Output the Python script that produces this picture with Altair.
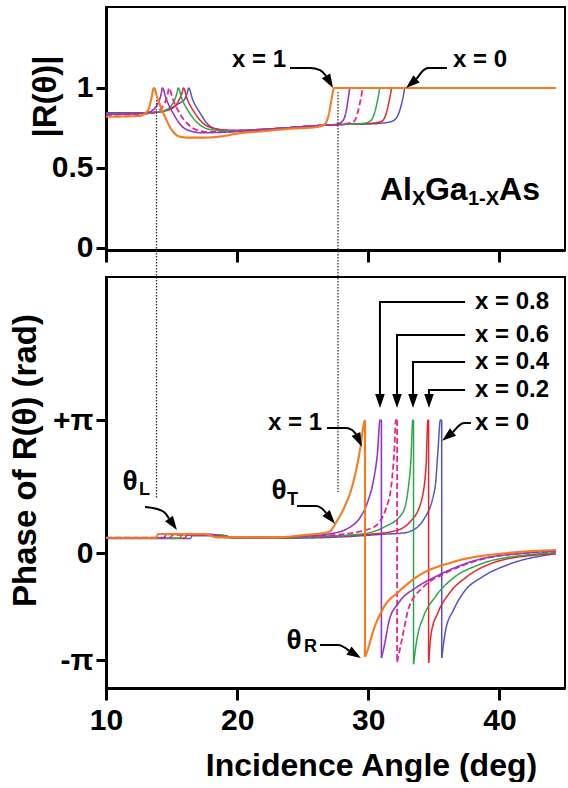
import math
import altair as alt
import pandas as pd

PI = math.pi
FONT = "Liberation Sans"

# ---------------- series styling ----------------
names = ["x = 0", "x = 0.2", "x = 0.4", "x = 0.6", "x = 0.8", "x = 1"]
colors = ["#5353C4", "#E3262B", "#2EA64B", "#E8268C", "#9535C3", "#F67A1E"]
dashes = [[1, 0], [1, 0], [1, 0], [6, 3], [1, 0], [1, 0]]
widths = [1.5, 1.5, 1.5, 1.8, 1.6, 2.1]

# ---------------- |R(theta)| (top panel) ----------------
mag_ang_x0 = [10, 13.5, 14.5, 15.5, 16.0, 16.2, 16.3, 16.6, 17.2, 17.8, 18.4, 19.2, 20.0, 22.0, 24.0, 26.0, 28.0, 30.0, 31.5, 32.0, 32.4, 32.65, 32.8, 44.3]
mag_val_x0 = [0.845, 0.845, 0.86, 0.90, 0.93, 0.97, 1.0, 0.93, 0.84, 0.77, 0.745, 0.735, 0.735, 0.742, 0.752, 0.764, 0.772, 0.775, 0.785, 0.80, 0.86, 0.94, 1.0, 1.0]
mag_ang_x02 = [10, 13.5, 15.0, 15.6, 15.8, 15.9, 16.2, 16.8, 17.4, 18.1, 19.0, 20.0, 22.0, 24.0, 26.0, 28.0, 30.0, 31.0, 31.4, 31.65, 31.8, 44.3]
mag_val_x02 = [0.84, 0.845, 0.87, 0.93, 0.97, 1.0, 0.93, 0.84, 0.78, 0.75, 0.738, 0.735, 0.742, 0.752, 0.764, 0.772, 0.778, 0.79, 0.85, 0.94, 1.0, 1.0]
mag_ang_x04 = [10, 13.0, 14.5, 15.2, 15.4, 15.5, 15.8, 16.4, 17.0, 17.7, 18.5, 19.5, 22.0, 24.0, 26.0, 28.0, 29.5, 30.1, 30.5, 30.75, 30.9, 44.3]
mag_val_x04 = [0.838, 0.842, 0.86, 0.92, 0.965, 1.0, 0.93, 0.84, 0.78, 0.745, 0.735, 0.732, 0.74, 0.752, 0.764, 0.772, 0.778, 0.79, 0.85, 0.94, 1.0, 1.0]
mag_ang_x06 = [10, 12.5, 13.8, 14.5, 14.7, 14.8, 15.1, 15.7, 16.3, 17.0, 17.8, 19.0, 20.0, 22.0, 24.0, 26.0, 28.0, 28.9, 29.2, 29.45, 29.6, 44.3]
mag_val_x06 = [0.832, 0.836, 0.85, 0.91, 0.96, 1.0, 0.93, 0.83, 0.77, 0.735, 0.725, 0.725, 0.73, 0.74, 0.752, 0.764, 0.774, 0.79, 0.85, 0.94, 1.0, 1.0]
mag_ang_x08 = [10, 12.0, 13.3, 14.0, 14.2, 14.3, 14.6, 15.2, 15.8, 16.5, 17.3, 18.5, 20.0, 22.0, 24.0, 26.0, 27.5, 28.0, 28.3, 28.5, 28.6, 44.3]
mag_val_x08 = [0.835, 0.838, 0.85, 0.91, 0.96, 1.0, 0.93, 0.83, 0.76, 0.73, 0.72, 0.722, 0.728, 0.74, 0.752, 0.764, 0.772, 0.79, 0.85, 0.95, 1.0, 1.0]
mag_ang_x1 = [10, 12.5, 13.2, 13.45, 13.65, 13.95, 14.5, 15.0, 15.5, 16.2, 17.5, 19.0, 20.0, 22.0, 24.0, 26.0, 26.7, 27.0, 27.2, 27.4, 44.3]
mag_val_x1 = [0.82, 0.825, 0.86, 0.93, 1.0, 0.93, 0.82, 0.74, 0.70, 0.69, 0.69, 0.70, 0.715, 0.73, 0.745, 0.755, 0.775, 0.84, 0.93, 1.0, 1.0]

# ---------------- phase of R(theta) (bottom panel, rad) ----------------
ph_ang_x0 = [10, 16.4, 16.6, 19.0, 19.8, 24, 28, 31.5, 32.6, 33.1, 34.2, 35.1, 35.3, 35.5, 35.6, 35.6, 35.9, 36.5, 37.3, 38.7, 40.6, 44.3]
ph_val_x0 = [0.34, 0.34, 0.41, 0.41, 0.35, 0.35, 0.38, 0.45, 0.47, 0.50, 0.78, 1.56, 2.36, 3.14, 3.14, -3.08, -2.26, -1.67, -1.14, -0.70, -0.35, -0.02]
ph_ang_x02 = [10, 16.0, 16.2, 18.9, 19.7, 24, 27, 30, 32.0, 33.1, 34.0, 34.4, 34.55, 34.6, 34.6, 34.8, 35.3, 36.2, 37.5, 39.5, 42.8, 44.3]
ph_val_x02 = [0.35, 0.35, 0.42, 0.42, 0.36, 0.36, 0.39, 0.44, 0.52, 0.71, 1.18, 2.03, 3.14, 3.14, -3.22, -2.35, -1.76, -1.17, -0.70, -0.29, -0.06, -0.02]
ph_ang_x04 = [10, 15.6, 15.8, 18.7, 19.5, 24, 27, 29.5, 31.2, 32.6, 33.0, 33.25, 33.4, 33.45, 33.45, 33.7, 34.2, 35.1, 36.5, 38.4, 42.0, 44.3]
ph_val_x04 = [0.35, 0.35, 0.43, 0.43, 0.36, 0.36, 0.40, 0.45, 0.61, 0.94, 1.42, 2.2, 3.14, 3.14, -3.26, -2.55, -1.88, -1.29, -0.73, -0.35, -0.06, 0.0]
ph_ang_x06 = [10, 14.9, 15.1, 18.3, 19.2, 23, 26, 28.5, 30.4, 31.4, 31.8, 32.0, 32.1, 32.2, 32.2, 32.6, 33.1, 34.2, 35.9, 38.4, 42.0, 44.3]
ph_val_x06 = [0.36, 0.36, 0.43, 0.43, 0.37, 0.37, 0.40, 0.46, 0.61, 1.09, 1.72, 2.5, 3.14, 3.14, -3.2, -2.47, -1.59, -1.0, -0.59, -0.21, 0.0, 0.03]
ph_ang_x08 = [10, 14.4, 14.6, 18.0, 19.0, 23.0, 25.0, 27.0, 28.6, 29.4, 30.0, 30.4, 30.7, 30.9, 31.0, 31.0, 31.2, 31.6, 32.3, 33.7, 35.1, 37.8, 42.0, 44.3]
ph_val_x08 = [0.36, 0.36, 0.44, 0.44, 0.37, 0.37, 0.40, 0.45, 0.61, 0.85, 1.25, 1.72, 2.36, 3.14, 3.14, -3.08, -2.76, -1.97, -1.47, -1.0, -0.70, -0.26, 0.0, 0.04]
ph_ang_x1 = [10, 13.8, 14.0, 17.5, 18.5, 23.0, 25.0, 27.0, 27.6, 28.2, 28.7, 29.1, 29.4, 29.6, 29.75, 29.75, 29.9, 30.4, 31.2, 32.3, 33.7, 36.5, 40.6, 44.3]
ph_val_x1 = [0.36, 0.36, 0.45, 0.45, 0.37, 0.37, 0.42, 0.50, 0.75, 1.10, 1.50, 2.00, 2.50, 2.95, 3.14, -3.05, -2.9, -2.26, -1.58, -1.14, -0.70, -0.26, 0.0, 0.07]

mag_series = [(mag_ang_x0, mag_val_x0), (mag_ang_x02, mag_val_x02), (mag_ang_x04, mag_val_x04),
              (mag_ang_x06, mag_val_x06), (mag_ang_x08, mag_val_x08), (mag_ang_x1, mag_val_x1)]
ph_series = [(ph_ang_x0, ph_val_x0), (ph_ang_x02, ph_val_x02), (ph_ang_x04, ph_val_x04),
             (ph_ang_x06, ph_val_x06), (ph_ang_x08, ph_val_x08), (ph_ang_x1, ph_val_x1)]

# ---------------- annotations ----------------
guide_ang = [13.85, 27.69]
guide_top = [0.925, 0.975]
guide_bot = [-1.563, -1.525]

top_lbl_text = ["x = 1", "x = 0"]
top_lbl_ang = [21.67, 38.52]
top_lbl_val = [1.175, 1.175]

top_arrow_id = [0, 0, 0, 0, 1, 1, 1]
top_arrow_ang = [24.03, 25.56, 26.32, 26.78, 36.0, 34.55, 33.68]
top_arrow_val = [1.125, 1.125, 1.112, 1.075, 1.125, 1.125, 1.057]
top_head_ang = [26.78, 33.68]
top_head_val = [1.075, 1.057]
top_head_rot = [150, 229]

alloy_main_text = ["Al", "Ga", "As"]
alloy_main_ang = [30.89, 34.32, 39.97]
alloy_main_val = [0.362, 0.362, 0.362]
alloy_sub_text = ["X", "1-X"]
alloy_sub_ang = [33.33, 37.60]
alloy_sub_val = [0.306, 0.306]

bot_lbl_text = ["x = 0.8", "x = 0.6", "x = 0.4", "x = 0.2", "x = 0"]
bot_lbl_ang = [38.14, 38.14, 38.14, 38.14, 38.14]
bot_lbl_val = [5.93, 5.15, 4.512, 3.851, 3.071]
bot_lbl1_text = ["x = 1"]
bot_lbl1_ang = [26.47]
bot_lbl1_val = [3.07]

elbow_id = [0, 0, 0, 1, 1, 1, 2, 2, 2, 3, 3, 3]
elbow_ang = [37.38, 30.89, 30.89, 37.38, 32.19, 32.19, 37.38, 33.41, 33.41, 37.38, 34.63, 34.63]
elbow_val = [5.93, 5.93, 3.756, 5.15, 5.15, 3.756, 4.512, 4.512, 3.756, 3.851, 3.851, 3.756]

curve_id = [0, 0, 0, 1, 1, 1, 1, 2, 2, 2, 2, 3, 3, 3, 3, 4, 4, 4]
curve_ang = [37.83, 37.30, 36.46,
             26.85, 28.30, 28.76, 29.06,
             24.56, 26.01, 26.47, 26.78,
             12.97, 14.12, 14.58, 14.80,
             26.32, 27.69, 28.53]
curve_val = [3.071, 3.071, 2.858,
             2.953, 2.953, 2.906, 2.811,
             1.110, 1.110, 1.051, 0.945,
             1.087, 1.016, 0.921, 0.815,
             -2.699, -2.699, -2.863]

bot_head_ang = [30.89, 32.19, 33.41, 34.63, 36.46, 29.06, 26.78, 14.80, 28.53]
bot_head_val = [3.756, 3.756, 3.756, 3.756, 2.858, 2.811, 0.945, 0.815, -2.863]
bot_head_rot = [180, 180, 180, 180, 231, 155, 140, 145, 122]

theta_ang = [23.19, 11.83, 24.34]
theta_val = [1.465, 1.68, -2.58]
theta_sub_text = ["T", "L", "R"]
theta_sub_ang = [23.80, 12.52, 25.10]
theta_sub_val = [1.25, 1.49, -2.757]

# ---------------- scales / axes ----------------
x_scale = alt.Scale(domain=[10, 45], nice=False, zero=False)
top_y_scale = alt.Scale(domain=[-0.0125, 1.506], nice=False, zero=False)
bot_y_scale = alt.Scale(domain=[-3.96, 0, 6.52], range=[411, 276, 0], nice=False, zero=False)

top_x_axis = alt.Axis(values=[10, 20, 30, 40], labels=False, title=None, tickSize=12)
top_y_axis = alt.Axis(values=[0, 0.5, 1], tickSize=10, labelPadding=3,
                      labelExpr="datum.value == 0.5 ? '0.5' : (datum.value == 1 ? '1' : '0')",
                      title="|R(θ)|", titleX=-61, titleY=89, titleAngle=270,
                      titleBaseline="middle", titleAlign="center")
bot_x_axis = alt.Axis(values=[10, 20, 30, 40], tickSize=12, labelPadding=5, labelFlush=False,
                      title="Incidence Angle (deg)", titleFontSize=32, titleX=265, titleY=77,
                      titleBaseline="middle", titleAlign="center")
bot_y_axis = alt.Axis(values=[-PI, 0, PI], tickSize=10, labelPadding=3,
                      labelExpr="datum.value > 1 ? '+π' : (datum.value < -1 ? '-π' : '0')",
                      title="Phase of R(θ) (rad)", titleX=-81, titleY=183, titleAngle=270,
                      titleBaseline="middle", titleAlign="center")


def xy(top):
    if top:
        return dict(x=alt.X("a:Q", scale=x_scale, axis=top_x_axis),
                    y=alt.Y("v:Q", scale=top_y_scale, axis=top_y_axis))
    return dict(x=alt.X("a:Q", scale=x_scale, axis=bot_x_axis),
                y=alt.Y("v:Q", scale=bot_y_scale, axis=bot_y_axis))


def frame(angs, vals, **extra):
    d = {"a": list(angs), "v": list(vals), "i": list(range(len(angs)))}
    d.update(extra)
    return pd.DataFrame(d)


def line(df, k, top, interp, detail=None):
    enc = dict(order="i:Q", **xy(top))
    if detail:
        enc["detail"] = detail
    return alt.Chart(df).mark_line(
        color=colors[k], strokeWidth=widths[k], strokeDash=dashes[k], clip=True, interpolate=interp
    ).encode(**enc)


def mag_layers():
    return [line(frame(a, v), k, True, "monotone") for k, (a, v) in enumerate(mag_series)]


def phase_layers():
    layers = []
    for k, (a, v) in enumerate(ph_series):
        j = next(n for n in range(len(a) - 1) if a[n] == a[n + 1])  # phase wrap point
        smooth = pd.concat([frame(a[: j + 1], v[: j + 1], s=0), frame(a[j + 1:], v[j + 1:], s=1)])
        layers.append(line(smooth, k, False, "monotone", detail="s:N"))
        layers.append(line(frame(a[j: j + 2], v[j: j + 2]), k, False, "linear"))
    return layers


def texts(t, angs, vals, top, size, align="center", baseline="middle"):
    return alt.Chart(frame(angs, vals, t=t)).mark_text(
        font=FONT, fontWeight="bold", fontSize=size, color="black", align=align, baseline=baseline
    ).encode(text="t:N", **xy(top))


def heads(angs, vals, rots, top):
    return alt.Chart(frame(angs, vals, r=rots)).mark_point(
        shape="M0,-1.8L0.62,0L-0.62,0Z", filled=True, size=240, color="black", opacity=1, strokeWidth=0
    ).encode(angle=alt.Angle("r:Q", scale=None), **xy(top))


def shafts(ids, angs, vals, top, interp):
    return alt.Chart(frame(angs, vals, g=ids)).mark_line(
        color="black", strokeWidth=2, interpolate=interp
    ).encode(detail="g:N", order="i:Q", **xy(top))


# ---------------- top panel ----------------
guides = alt.Chart(pd.DataFrame({"a": guide_ang, "v": guide_top, "v2": guide_bot})).mark_rule(
    color="#333333", strokeWidth=1.3, strokeDash=[1.5, 1.5], clip=False
).encode(y2="v2:Q", **xy(True))

top_layers = mag_layers() + [
    guides,
    texts(top_lbl_text, top_lbl_ang, top_lbl_val, True, 24),
    shafts(top_arrow_id, top_arrow_ang, top_arrow_val, True, "monotone"),
    heads(top_head_ang, top_head_val, top_head_rot, True),
    texts(alloy_main_text, alloy_main_ang, alloy_main_val, True, 32, align="left"),
    texts(alloy_sub_text, alloy_sub_ang, alloy_sub_val, True, 20, align="left"),
]
top = alt.layer(*top_layers).properties(width=459, height=243)

# ---------------- bottom panel ----------------
bot_layers = phase_layers() + [
    texts(bot_lbl_text, bot_lbl_ang, bot_lbl_val, False, 24, align="left"),
    texts(bot_lbl1_text, bot_lbl1_ang, bot_lbl1_val, False, 24, align="right"),
    shafts(elbow_id, elbow_ang, elbow_val, False, "linear"),
    shafts(curve_id, curve_ang, curve_val, False, "monotone"),
    heads(bot_head_ang, bot_head_val, bot_head_rot, False),
    texts(["θ", "θ", "θ"], theta_ang, theta_val, False, 28),
    texts(theta_sub_text, theta_sub_ang, theta_sub_val, False, 18, align="left"),
]
bottom = alt.layer(*bot_layers).properties(width=459, height=411)

chart = alt.vconcat(top, bottom, spacing=27, bounds="flush").properties(
    padding={"left": 8, "top": 6, "right": 2, "bottom": 0}
).configure_view(stroke="black", strokeWidth=2).configure_axis(
    labelFont=FONT, labelFontWeight="bold", labelFontSize=30, labelColor="black",
    titleFont=FONT, titleFontWeight="bold", titleFontSize=33, titleColor="black",
    domainColor="black", domainWidth=3, tickColor="black", tickWidth=3, grid=False,
)

chart.save("out.html", embed_options={"renderer": "svg", "actions": False})
